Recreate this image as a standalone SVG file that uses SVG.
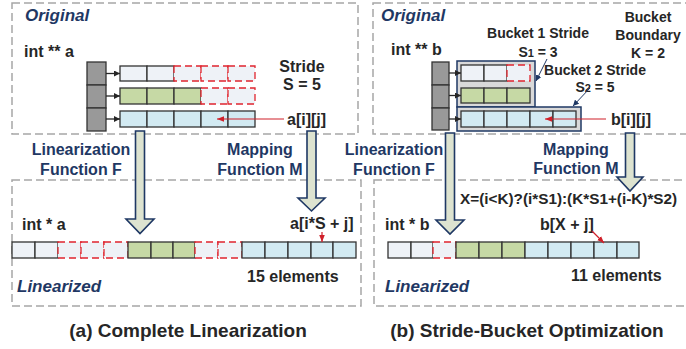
<svg xmlns="http://www.w3.org/2000/svg" width="686" height="349" viewBox="0 0 686 349">
<defs>
<style>
.panel{fill:none;stroke:#A6A6A6;stroke-width:1.5;stroke-dasharray:8 4}
.t{font-family:"Liberation Sans",Arial,sans-serif;font-weight:bold;font-size:16px;fill:#262626}
.t14{font-family:"Liberation Sans",Arial,sans-serif;font-weight:bold;font-size:14px;fill:#262626}
.nv{font-family:"Liberation Sans",Arial,sans-serif;font-weight:bold;font-size:16px;fill:#1F3864}
.hd{font-family:"Liberation Sans",Arial,sans-serif;font-weight:bold;font-style:italic;font-size:17px;fill:#1F3864}
.cap{font-family:"Liberation Sans",Arial,sans-serif;font-weight:bold;font-size:19px;fill:#262626}
.ptr{fill:#999999;stroke:#333333;stroke-width:1.3}
.c0{fill:#EEF2F7;stroke:#333333;stroke-width:1.3}
.cg{fill:#C6D9A5;stroke:#333333;stroke-width:1.3}
.cb{fill:#D2EAF2;stroke:#333333;stroke-width:1.3}
.cd{fill:#EEF2F7;stroke:#E0252F;stroke-width:1.3;stroke-dasharray:7 4}
.bk{fill:#D9D9D9;stroke:#1F3864;stroke-width:1.5}
.big{fill:#DDE3D0;stroke:#1F3864;stroke-width:1.6;stroke-linejoin:miter}
.pa{stroke:#262626;stroke-width:1.3;fill:none}
.ra{stroke:#D0202A;stroke-width:1.2;fill:none}
.na{stroke:#1F3864;stroke-width:1;fill:none}
</style>
<marker id="mk" viewBox="0 0 10 10" refX="10" refY="5" markerWidth="6" markerHeight="6" orient="auto" markerUnits="userSpaceOnUse"><path d="M0,0 L10,5 L0,10 z" fill="#262626"/></marker>
<marker id="mr" viewBox="0 0 10 10" refX="10" refY="5" markerWidth="7" markerHeight="7" orient="auto" markerUnits="userSpaceOnUse"><path d="M0,1 L10,5 L0,9 z" fill="#D0202A"/></marker>
<marker id="mn" viewBox="0 0 10 10" refX="10" refY="5" markerWidth="6" markerHeight="6" orient="auto" markerUnits="userSpaceOnUse"><path d="M0,0 L10,5 L0,10 z" fill="#1F3864"/></marker>
</defs>

<!-- panels -->
<g id="panels">
<rect class="panel" x="12" y="3" width="346" height="131"/>
<rect class="panel" x="373" y="3" width="320" height="131"/>
<rect class="panel" x="12" y="180" width="349" height="126"/>
<rect class="panel" x="374" y="180" width="320" height="126"/>
</g>

<!-- left original -->
<g id="a-original">
<text class="hd" x="25" y="21">Original</text>
<text class="t" x="24" y="57">int ** a</text>
<text class="t" x="302" y="72" text-anchor="middle">Stride</text>
<text class="t" x="302" y="90" text-anchor="middle">S = 5</text>
<text class="t" x="287" y="125">a[i][j]</text>
</g>
<g id="a-pointers">
<rect class="ptr" x="87" y="62" width="19" height="23"/>
<rect class="ptr" x="87" y="85" width="19" height="23"/>
<rect class="ptr" x="87" y="108" width="19" height="23"/>
</g>
<g id="a-row0">
<rect class="c0" x="120" y="66" width="27" height="15"/>
<rect class="c0" x="147" y="66" width="27" height="15"/>
<rect class="cd" x="174" y="66" width="27" height="15"/>
<rect class="cd" x="201" y="66" width="27" height="15"/>
<rect class="cd" x="228" y="66" width="27" height="15"/>
</g>
<g id="a-row1">
<rect class="cg" x="120" y="88" width="27" height="16"/>
<rect class="cg" x="147" y="88" width="27" height="16"/>
<rect class="cg" x="174" y="88" width="27" height="16"/>
<rect class="cd" x="201" y="88" width="27" height="16"/>
<rect class="cd" x="228" y="88" width="27" height="16"/>
</g>
<g id="a-row2">
<rect class="cb" x="120" y="111" width="27" height="16"/>
<rect class="cb" x="147" y="111" width="27" height="16"/>
<rect class="cb" x="174" y="111" width="27" height="16"/>
<rect class="cb" x="201" y="111" width="27" height="16"/>
<rect class="cb" x="228" y="111" width="27" height="16"/>
</g>

<!-- right original -->
<g id="b-original">
<text class="hd" x="381" y="21">Original</text>
<text class="t" x="391" y="55">int ** b</text>
<text class="t14" x="648" y="22" text-anchor="middle">Bucket</text>
<text class="t14" x="648" y="40" text-anchor="middle">Boundary</text>
<text class="t14" x="648" y="58" text-anchor="middle">K = 2</text>
<text class="t" x="611" y="125">b[i][j]</text>
</g>
<g id="b-bucket1">
<rect class="bk" x="457" y="61" width="78" height="46"/>
<text class="t14" x="538" y="38" text-anchor="middle">Bucket 1 Stride</text>
<text class="t14" x="538" y="57" text-anchor="middle">S<tspan font-size="11px">1</tspan> = 3</text>
</g>
<g id="b-bucket2">
<rect class="bk" x="457" y="107" width="124" height="24"/>
<text class="t14" x="595" y="75" text-anchor="middle">Bucket 2 Stride</text>
<text class="t14" x="595" y="92" text-anchor="middle">S<tspan font-size="11px">2</tspan> = 5</text>
</g>
<g id="b-pointers">
<rect class="ptr" x="432" y="62" width="17" height="23"/>
<rect class="ptr" x="432" y="85" width="17" height="23"/>
<rect class="ptr" x="432" y="108" width="17" height="22"/>
</g>
<g id="b-row0">
<rect class="c0" x="461" y="65" width="23" height="16"/>
<rect class="c0" x="484" y="65" width="23" height="16"/>
<rect class="cd" x="507" y="65" width="23" height="16"/>
</g>
<g id="b-row1">
<rect class="cg" x="461" y="88" width="23" height="15"/>
<rect class="cg" x="484" y="88" width="23" height="15"/>
<rect class="cg" x="507" y="88" width="23" height="15"/>
</g>
<g id="b-row2">
<rect class="cb" x="461" y="111" width="23" height="16"/>
<rect class="cb" x="484" y="111" width="23" height="16"/>
<rect class="cb" x="507" y="111" width="23" height="16"/>
<rect class="cb" x="530" y="111" width="23" height="16"/>
<rect class="cb" x="553" y="111" width="23" height="16"/>
</g>

<!-- left linearized -->
<g id="a-linear">
<text class="t" x="22" y="230">int * a</text>
<rect class="c0" x="12" y="242" width="23" height="16"/>
<rect class="c0" x="35" y="242" width="23" height="16"/>
<rect class="cd" x="58" y="242" width="23" height="16"/>
<rect class="cd" x="81" y="242" width="23" height="16"/>
<rect class="cd" x="104" y="242" width="24" height="16"/>
<rect class="cg" x="128" y="242" width="23" height="16"/>
<rect class="cg" x="151" y="242" width="22" height="16"/>
<rect class="cg" x="173" y="242" width="22" height="16"/>
<rect class="cd" x="195" y="242" width="23" height="16"/>
<rect class="cd" x="218" y="242" width="24" height="16"/>
<rect class="cb" x="242" y="242" width="23" height="16"/>
<rect class="cb" x="265" y="242" width="23" height="16"/>
<rect class="cb" x="288" y="242" width="23" height="16"/>
<rect class="cb" x="311" y="242" width="22" height="16"/>
<rect class="cb" x="333" y="242" width="23" height="16"/>
<text class="t" x="290" y="229">a[i*S + j]</text>
<text class="t" x="247" y="282">15 elements</text>
<text class="hd" x="17" y="292">Linearized</text>
</g>

<!-- right linearized -->
<g id="b-linear">
<text class="t" x="385" y="230">int * b</text>
<rect class="c0" x="388" y="242" width="23" height="16"/>
<rect class="c0" x="411" y="242" width="22" height="16"/>
<rect class="cd" x="433" y="242" width="23" height="16"/>
<rect class="cg" x="456" y="242" width="23" height="16"/>
<rect class="cg" x="479" y="242" width="23" height="16"/>
<rect class="cg" x="502" y="242" width="23" height="16"/>
<rect class="cb" x="525" y="242" width="23" height="16"/>
<rect class="cb" x="548" y="242" width="23" height="16"/>
<rect class="cb" x="571" y="242" width="23" height="16"/>
<rect class="cb" x="594" y="242" width="23" height="16"/>
<rect class="cb" x="617" y="242" width="22" height="16"/>
<text class="t" x="460" y="204" font-size="15.3px" style="font-size:15.3px">X=(i&lt;K)?(i*S1):(K*S1+(i-K)*S2)</text>
<text class="t" x="540" y="230">b[X + j]</text>
<text class="t" x="571" y="281">11 elements</text>
<text class="hd" x="385" y="292">Linearized</text>
</g>

<!-- connectors -->
<g id="connectors">
<line class="pa" x1="106" y1="73.5" x2="120" y2="73.5" marker-end="url(#mk)"/>
<line class="pa" x1="106" y1="96" x2="120" y2="96" marker-end="url(#mk)"/>
<line class="pa" x1="106" y1="119" x2="120" y2="119" marker-end="url(#mk)"/>
<line class="pa" x1="449" y1="73" x2="461" y2="73" marker-end="url(#mk)"/>
<line class="pa" x1="449" y1="95.5" x2="461" y2="95.5" marker-end="url(#mk)"/>
<line class="pa" x1="449" y1="119" x2="461" y2="119" marker-end="url(#mk)"/>
<line class="ra" x1="284" y1="119" x2="217" y2="119" marker-end="url(#mr)"/>
<line class="ra" x1="606" y1="119" x2="545" y2="119" marker-end="url(#mr)"/>
<line class="ra" x1="322" y1="232" x2="322" y2="242" marker-end="url(#mr)"/>
<line class="ra" x1="592" y1="231" x2="604" y2="243" marker-end="url(#mr)"/>
<line class="na" x1="547" y1="59" x2="536" y2="81" marker-end="url(#mn)"/>
<line class="na" x1="590" y1="88" x2="573" y2="106" marker-end="url(#mn)"/>
<polygon class="big" points="135.5,131 144.5,131 144.5,219 154,219 140,233.5 126,219 135.5,219"/>
<polygon class="big" points="307,131 316,131 316,198 325,198 311.5,211 298,198 307,198"/>
<polygon class="big" points="445.5,133 454.5,133 454.5,220 464,220 450,234 436,220 445.5,220"/>
<polygon class="big" points="625.5,133 634.5,133 634.5,177 643,177 630,191 617,177 625.5,177"/>
</g>

<!-- function labels -->
<g id="labels">
<text class="nv" x="81" y="155" text-anchor="middle">Linearization</text>
<text class="nv" x="81" y="175" text-anchor="middle">Function F</text>
<text class="nv" x="260" y="155" text-anchor="middle">Mapping</text>
<text class="nv" x="260" y="175" text-anchor="middle">Function M</text>
<text class="nv" x="394" y="155" text-anchor="middle">Linearization</text>
<text class="nv" x="394" y="175" text-anchor="middle">Function F</text>
<text class="nv" x="576" y="155" text-anchor="middle">Mapping</text>
<text class="nv" x="576" y="174" text-anchor="middle">Function M</text>
</g>

<g id="captions">
<text class="cap" x="188" y="337" text-anchor="middle">(a) Complete Linearization</text>
<text class="cap" x="527" y="337" text-anchor="middle">(b) Stride-Bucket Optimization</text>
</g>
</svg>
